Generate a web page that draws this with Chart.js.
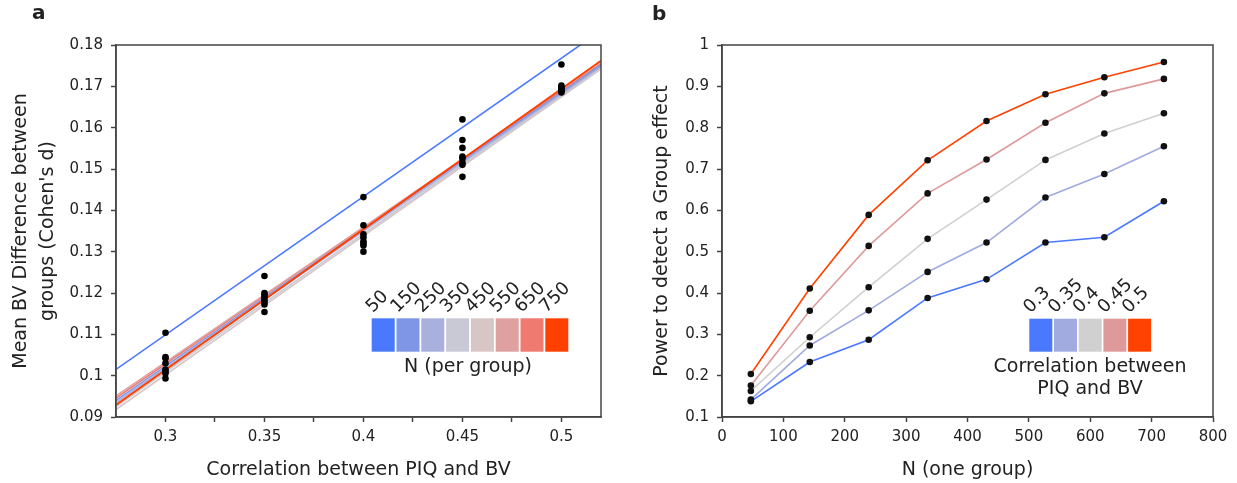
<!DOCTYPE html>
<html>
<head>
<meta charset="utf-8">
<script src="https://cdn.jsdelivr.net/npm/chart.js@4.4.1/dist/chart.umd.min.js"></script>
<style>
  body { margin: 0; background: #fff; width: 1237px; height: 483px; overflow: hidden; position: relative; }
  #wa { position: absolute; left: 0; top: 0; width: 620px; height: 483px; }
  #wb { position: absolute; left: 620px; top: 0; width: 617px; height: 483px; }
</style>
</head>
<body>
<div id="wa"><canvas id="chartA" width="620" height="483"></canvas></div>
<div id="wb"><canvas id="chartB" width="617" height="483"></canvas></div>
<script>
// ---- panel a data ----
const correlations = [0.3, 0.35, 0.4, 0.45, 0.5];
const groupSizes = ["50", "150", "250", "350", "450", "550", "650", "750"];
const nColors = ["#4a78fe", "#7f96e6", "#a9b0dd", "#c9c9d6", "#d8c6c6", "#dea0a0", "#ee7a70", "#ff4000"];

// mean d per correlation, one array per N
const dN50  = [0.1104, 0.1241, 0.1432, 0.1620, 0.1753];
const dN150 = [0.1045, 0.1154, 0.1300, 0.1570, 0.1702];
const dN250 = [0.0993, 0.1200, 0.1364, 0.1481, 0.1690];
const dN350 = [0.1030, 0.1172, 0.1320, 0.1551, 0.1688];
const dN450 = [0.1010, 0.1190, 0.1315, 0.1510, 0.1685];
const dN550 = [0.1042, 0.1183, 0.1335, 0.1530, 0.1698];
const dN650 = [0.1015, 0.1195, 0.1325, 0.1525, 0.1695];
const dN750 = [0.1005, 0.1178, 0.1342, 0.1515, 0.1692];
const meanD = [dN50, dN150, dN250, dN350, dN450, dN550, dN650, dN750];

// fitted lines, value at the left and right end of the x range
const fitX = [0.275, 0.52];
const fitStart = [0.1015, 0.0940, 0.0935, 0.0925, 0.0918, 0.0951, 0.0946, 0.0929];
const fitEnd   = [0.1835, 0.1752, 0.1748, 0.1745, 0.1742, 0.1750, 0.1755, 0.1762];

const corrTicks = [0.3, 0.325, 0.35, 0.375, 0.4, 0.425, 0.45, 0.475, 0.5];
const corrTickLabels = ["0.3", "", "0.35", "", "0.4", "", "0.45", "", "0.5"];

// ---- panel b data ----
const sampleN = [47, 143, 239, 335, 431, 527, 623, 720];
const corrLabels = ["0.3", "0.35", "0.4", "0.45", "0.5"];
const rColors = ["#4a78ff", "#a1abe0", "#d0d0d0", "#de9a9a", "#ff4200"];
const power030 = [0.138, 0.233, 0.287, 0.388, 0.433, 0.522, 0.535, 0.622];
const power035 = [0.142, 0.273, 0.358, 0.451, 0.522, 0.631, 0.688, 0.755];
const power040 = [0.163, 0.293, 0.414, 0.531, 0.626, 0.722, 0.786, 0.835];
const power045 = [0.176, 0.357, 0.514, 0.641, 0.723, 0.812, 0.883, 0.918];
const power050 = [0.204, 0.411, 0.589, 0.721, 0.816, 0.881, 0.922, 0.959];
const powerSeries = [power030, power035, power040, power045, power050];

const FONT = "'DejaVu Sans', sans-serif";
const INK = "#222";
const AXIS = "#444";

// colour swatch legend, panel letter and the box around the plot
const decor = {
  id: "decor",
  afterDraw(chart, args, o) {
    const ctx = chart.ctx;
    const a = chart.chartArea;
    ctx.save();
    ctx.strokeStyle = AXIS;
    ctx.lineWidth = 1.5;
    ctx.strokeRect(a.left, a.top, a.right - a.left, a.bottom - a.top);

    o.colors.forEach((c, i) => {
      const x = o.left + i * o.pitch;
      ctx.fillStyle = c;
      ctx.fillRect(x, o.top, o.w, o.h);
      ctx.save();
      ctx.translate(x + 1, o.top - 5);
      ctx.rotate(-Math.PI / 4);
      ctx.font = "18px " + FONT;
      ctx.fillStyle = INK;
      ctx.textAlign = "left";
      ctx.textBaseline = "alphabetic";
      ctx.fillText(o.labels[i], 0, 0);
      ctx.restore();
    });
    ctx.fillStyle = INK;
    ctx.font = "19px " + FONT;
    ctx.textAlign = "center";
    ctx.textBaseline = "middle";
    o.title.forEach((t, i) => ctx.fillText(t, o.tx, o.ty + i * 22));

    ctx.font = "bold 20px " + FONT;
    ctx.textAlign = "left";
    ctx.textBaseline = "alphabetic";
    ctx.fillText(o.letter, o.lx, o.ly);
    ctx.restore();
  }
};

function axisStyle(extra) {
  return Object.assign({
    grid: { drawOnChartArea: false, tickLength: 5, tickColor: AXIS, tickWidth: 1.5 },
    border: { color: AXIS, width: 1.5 },
  }, extra);
}
const tickFont = { family: FONT, size: 15 };
const titleFont = { family: FONT, size: 19, lineHeight: 1.4 };

// ---- chart a ----
const dsA = [];
meanD.forEach((vals, i) => {
  dsA.push({
    type: "scatter",
    data: vals.map((v, k) => ({ x: correlations[k], y: v })),
    pointRadius: 3.3, pointBackgroundColor: "#000", pointBorderWidth: 0,
    order: 0
  });
});
groupSizes.forEach((n, i) => {
  dsA.push({
    type: "line",
    data: [{ x: fitX[0], y: fitStart[i] }, { x: fitX[1], y: fitEnd[i] }],
    borderColor: nColors[i],
    borderWidth: i === 7 ? 2 : 1.6,
    pointRadius: 0,
    order: i === 7 ? 1 : 2 + i
  });
});

new Chart(document.getElementById("chartA"), {
  type: "scatter",
  data: { datasets: dsA },
  options: {
    responsive: false, animation: false,
    layout: { padding: { left: 0, right: 19, top: 45, bottom: 0 } },
    plugins: {
      legend: { display: false }, tooltip: { enabled: false },
      decor: {
        colors: nColors, labels: groupSizes,
        left: 371.7, pitch: 24.8, w: 23, top: 318.3, h: 33.4,
        title: ["N (per group)"], tx: 468, ty: 367,
        letter: "a", lx: 32, ly: 19
      }
    },
    scales: {
      x: axisStyle({
        type: "linear", min: 0.275, max: 0.52,
        afterBuildTicks: s => { s.ticks = corrTicks.map(v => ({ value: v })); },
        afterFit: s => { s.height = 66; },
        ticks: { color: INK, font: tickFont, padding: 6, maxRotation: 0, autoSkip: false,
                 callback: (v, i) => corrTickLabels[i] },
        title: { display: true, text: "Correlation between PIQ and BV", color: INK, font: titleFont, padding: { top: 0, bottom: 0 } }
      }),
      y: axisStyle({
        min: 0.09, max: 0.18,
        afterFit: s => { s.width = 116; },
        ticks: { color: INK, font: tickFont, padding: 8, stepSize: 0.01,
                 callback: v => String(parseFloat(v.toFixed(2))) },
        title: { display: true, text: ["Mean BV Difference between", "groups (Cohen's d)"], color: INK, font: titleFont, padding: { top: 8, bottom: 0 } }
      })
    }
  },
  plugins: [decor]
});

// ---- chart b ----
const dsB = powerSeries.map((vals, i) => ({
  data: vals.map((v, k) => ({ x: sampleN[k], y: v })),
  showLine: true,
  borderColor: rColors[i],
  borderWidth: 1.6,
  pointRadius: 3.3, pointBackgroundColor: "#111", pointBorderWidth: 0,
  order: 5 - i
}));

new Chart(document.getElementById("chartB"), {
  type: "scatter",
  data: { datasets: dsB },
  options: {
    responsive: false, animation: false,
    layout: { padding: { left: 0, right: 24, top: 45, bottom: 0 } },
    plugins: {
      legend: { display: false }, tooltip: { enabled: false },
      decor: {
        colors: rColors, labels: corrLabels,
        left: 409.3, pitch: 24.7, w: 23, top: 318.7, h: 33,
        title: ["Correlation between", "PIQ and BV"], tx: 470, ty: 367,
        letter: "b", lx: 32, ly: 20
      }
    },
    scales: {
      x: axisStyle({
        type: "linear", min: 0, max: 800,
        afterFit: s => { s.height = 66; },
        ticks: { color: INK, font: tickFont, padding: 6, stepSize: 100, maxRotation: 0 },
        title: { display: true, text: "N (one group)", color: INK, font: titleFont, padding: { top: 0, bottom: 0 } }
      }),
      y: axisStyle({
        min: 0.1, max: 1,
        afterFit: s => { s.width = 102; },
        ticks: { color: INK, font: tickFont, padding: 8, stepSize: 0.1,
                 callback: v => String(parseFloat(v.toFixed(1))) },
        title: { display: true, text: "Power to detect a Group effect", color: INK, font: titleFont, padding: { top: 29, bottom: 0 } }
      })
    }
  },
  plugins: [decor]
});
</script>
</body>
</html>
